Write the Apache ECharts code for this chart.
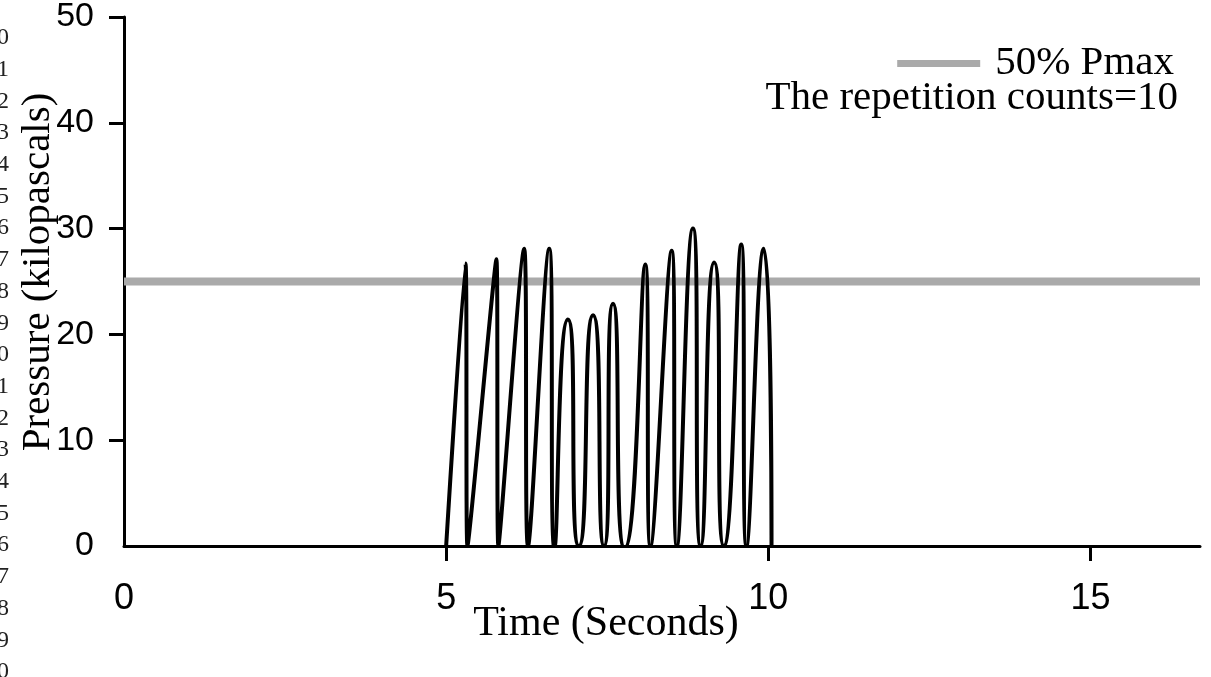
<!DOCTYPE html>
<html>
<head>
<meta charset="utf-8">
<script src="https://cdn.jsdelivr.net/npm/echarts@6/dist/echarts.min.js"></script>
<style>
  html, body { margin: 0; padding: 0; background: #fff; }
  #chart { width: 1211px; height: 677px; }
</style>
</head>
<body>
<div id="chart"></div>
<script>
// pressure trace (seconds, kPa)
const timeSec = [5.00, 5.30, 5.33, 5.78, 5.81, 6.21, 6.27, 6.60, 6.68, 6.89, 7.06, 7.28, 7.45,
  7.59, 7.77, 8.09, 8.17, 8.50, 8.58, 8.83, 8.95, 9.16, 9.31, 9.58, 9.66, 9.93, 10.05];
const pressureKpa = [0, 26.7, 0, 27.1, 0, 28.1, 0, 28.1, -0.2, 21.4, 0, 21.8, 0,
  22.9, -0.2, 26.6, 0, 27.9, 0, 30.0, 0, 26.8, 0, 28.5, 0, 28.1, 0];

// 50% Pmax reference line
const thresholdX = [0, 16.7];
const thresholdY = [25, 25];

const xTickLabels = [0, 5, 10, 15];
const xTickMarks = [5, 10, 15];
const yTickLabels = [0, 10, 20, 30, 40, 50];
const yTickMarks = [10, 20, 30, 40, 50];

// manuscript line numbers clipped at the left edge
const lineNumbers = ['0','1','2','3','4','5','6','7','8','9','0','1','2','3','4','5','6','7','8','9','0'];

const chart = echarts.init(document.getElementById('chart'));

const serif = '"Liberation Serif", "Times New Roman", serif';
const sans = '"Liberation Sans", Arial, sans-serif';

const graphics = [
  {
    type: 'text', x: 606, y: 624,
    style: { text: 'Time (Seconds)', font: '42px ' + serif, fill: '#000', align: 'center', verticalAlign: 'middle' }
  },
  {
    type: 'text', x: 38, y: 272, rotation: Math.PI / 2,
    style: { text: 'Pressure (kilopascals)', font: '41px ' + serif, fill: '#000', align: 'center', verticalAlign: 'middle' }
  },
  {
    type: 'text', x: 1178, y: 98,
    style: { text: 'The repetition counts=10', font: '41px ' + serif, fill: '#000', align: 'right', verticalAlign: 'middle' }
  }
];
lineNumbers.forEach(function (n, i) {
  graphics.push({
    type: 'text', x: 3, y: 38 + i * 31.7,
    style: { text: n, font: '24px ' + serif, fill: '#222', align: 'center', verticalAlign: 'middle' }
  });
});

chart.setOption({
  animation: false,
  backgroundColor: '#fff',
  grid: { left: 124, right: 11, top: 17, bottom: 131 },
  legend: {
    data: ['50% Pmax'],
    right: 32,
    top: 38,
    icon: 'rect',
    itemWidth: 83,
    itemHeight: 7,
    textStyle: { fontFamily: serif, fontSize: 41, color: '#000', padding: [0, 0, 0, 10] }
  },
  xAxis: {
    type: 'value',
    min: 0,
    max: thresholdX[1],
    splitLine: { show: false },
    axisLine: { onZero: false, lineStyle: { color: '#000', width: 3 } },
    axisTick: { show: true, length: 15, lineStyle: { color: '#000', width: 3 }, customValues: xTickMarks },
    axisLabel: { customValues: xTickLabels, margin: 35, fontFamily: sans, fontSize: 36, color: '#000' }
  },
  yAxis: {
    type: 'value',
    min: 0,
    max: 50,
    interval: 10,
    splitLine: { show: false },
    axisLine: { show: true, lineStyle: { color: '#000', width: 3 } },
    axisTick: { show: true, length: 15, lineStyle: { color: '#000', width: 3 }, customValues: yTickMarks },
    axisLabel: { customValues: yTickLabels, margin: 30, fontFamily: sans, fontSize: 34, color: '#000' }
  },
  series: [
    {
      name: '50% Pmax',
      type: 'line',
      data: thresholdX.map((x, i) => [x, thresholdY[i]]),
      showSymbol: false,
      lineStyle: { color: '#aaaaaa', width: 8 },
      itemStyle: { color: '#aaaaaa' },
      z: 2
    },
    {
      name: 'Pressure',
      type: 'line',
      data: timeSec.map((t, i) => [t, pressureKpa[i]]),
      showSymbol: false,
      smooth: 0.85,
      lineStyle: { color: '#000', width: 4, join: 'round', cap: 'round' },
      itemStyle: { color: '#000' },
      z: 3
    }
  ],
  graphic: graphics
});
</script>
</body>
</html>
